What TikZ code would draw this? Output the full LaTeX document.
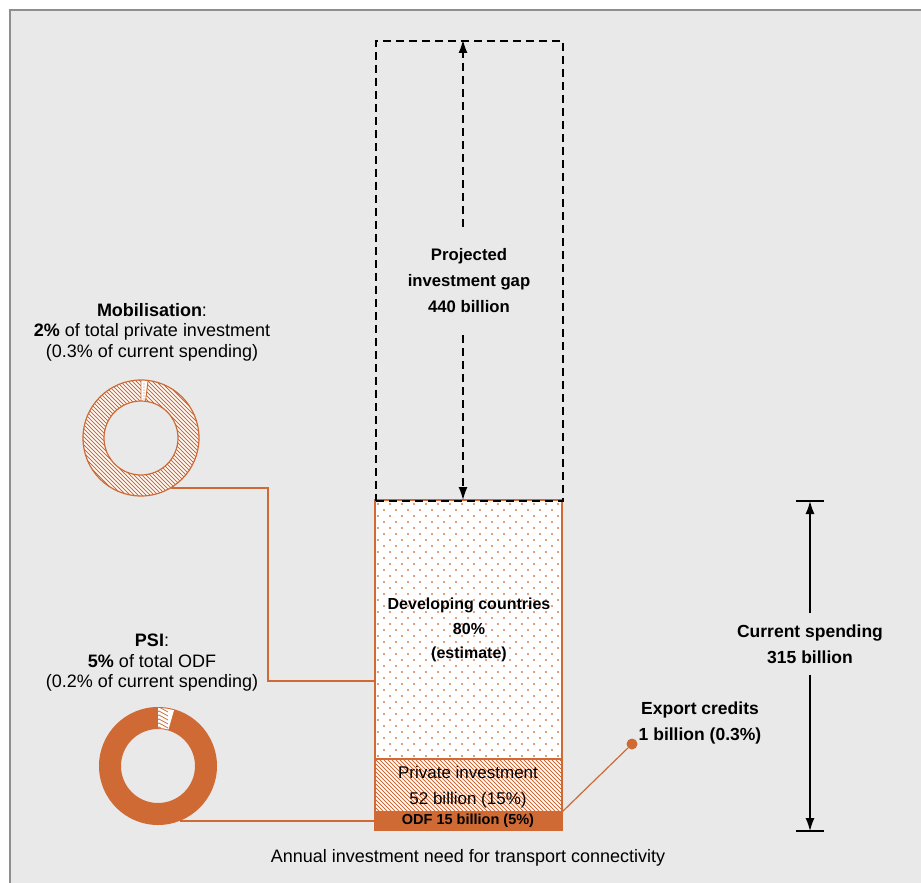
\documentclass[tikz,border=0pt]{standalone}
\usepackage{fontspec}
\setmainfont{Liberation Sans}
\usetikzlibrary{positioning,arrows.meta}
\definecolor{oecdorange}{HTML}{CF6A35}
\definecolor{panelgrey}{HTML}{E9E9E9}
\definecolor{framegrey}{HTML}{8E8E8E}

\begin{document}
\begin{tikzpicture}[x=1pt, y=-1pt,
  note/.style={font=\fontsize{18}{20.5}\selectfont, align=center, inner sep=0pt},
  lbl/.style={font=\fontsize{17.5}{26}\selectfont\bfseries, align=center, inner sep=0pt},
  inlbl/.style={font=\fontsize{16}{24.5}\selectfont\bfseries, align=center, inner sep=0pt},
  bar/.style={draw=oecdorange, line width=1.2pt, minimum width=187pt, anchor=north west, inner sep=0pt, outer sep=0pt},
  gapline/.style={draw=black, line width=1.7pt, dash pattern=on 8pt off 5pt},
  hatchline/.style={draw=oecdorange, line width=0.75pt},
  dim/.style={line width=1.4pt, -{Latex[length=13pt, width=9pt]}},
  link/.style={draw=oecdorange, line width=1.4pt}
]
% panel
\useasboundingbox (0,0) rectangle (921,883);
\fill[white] (0,0) rectangle (921,883);
\fill[panelgrey] (10,10) rectangle (921,883);
\draw[framegrey, line width=2pt] (10,883) -- (10,10) -- (921,10);

% stacked bar
\node[bar, fill=white, minimum height=260pt] (dev) at (375,500) {};
\begin{scope}
  \clip (dev.south west) rectangle (dev.north east);
  \foreach \r in {0,...,43}
    \foreach \c in {0,...,16}
      \fill[oecdorange!85] ({378+12*\c+6*mod(\r,2)}, {504+6*\r}) circle[radius=1.1];
\end{scope}
\node[bar, fill=white, minimum height=53pt] (priv) at (375,759) {};
\begin{scope}
  \clip (priv.south west) rectangle (priv.north east);
  \foreach \k in {-60,-56,...,190}
    \draw[hatchline] (375+\k,759) -- ++(60,60);
\end{scope}
\draw[oecdorange, line width=1.2pt] (priv.south west) rectangle (priv.north east);
\node[bar, fill=oecdorange, minimum height=18pt] (odf) at (375,812) {};
\node[gapline, minimum width=187pt, minimum height=460pt, anchor=north west, inner sep=0pt] (gap) at (375,40) {};

\node[inlbl] (devlbl) at (469,630) {Developing countries\\80\%\\(estimate)};
\node[font=\fontsize{17}{26}\selectfont, align=center, inner sep=0pt] (privlbl) at (468,787) {Private investment\\52 billion (15\%)};
\node[font=\fontsize{14.5}{16}\selectfont\bfseries, inner sep=0pt] (odflbl) at (468,821) {ODF 15 billion (5\%)};

% investment gap
\coordinate (gaptop) at (463,40);
\coordinate (gapbot) at (463,500);
\node[font=\fontsize{16.7}{26}\selectfont\bfseries, align=center, inner xsep=0pt, inner ysep=22pt] (gaptxt) at (469,281) {Projected\\investment gap\\440 billion};
\draw[gapline, dim] (gaptxt.north -| gaptop) -- (gaptop);
\draw[gapline, dim] (gaptxt.south -| gapbot) -- (gapbot);

% current spending
\coordinate (cstop) at (810,501);
\coordinate (csbot) at (810,831);
\node[lbl, inner ysep=11pt] (cs) at (810,644) {Current spending\\315 billion};
\draw[dim] (cs.north) -- (cstop);
\draw[dim] (cs.south) -- (csbot);
\draw[line width=1.4pt] ([xshift=-14pt]cstop) -- ([xshift=14pt]cstop);
\draw[line width=1.4pt] ([xshift=-14pt]csbot) -- ([xshift=14pt]csbot);

% export credits
\node[circle, fill=oecdorange, minimum size=11pt, inner sep=0pt] (expdot) at (632,744) {};
\draw[oecdorange, line width=1.2pt] (odf.north east) -- (expdot);
\node[lbl] (explbl) at (700,723) {Export credits\\1 billion (0.3\%)};

% mobilisation ring
\node[note] (moblbl) at (152,332) {\textbf{Mobilisation}:\\\textbf{2\%} of total private investment\\(0.3\% of current spending)};
\node[circle, minimum size=116pt, inner sep=0pt] (mob) at (141,438) {};
\fill[white] (mob.center) circle[radius=58];
\begin{scope}
  \clip (mob.center) circle[radius=58];
  \foreach \k in {-180,-176,...,120}
    \draw[hatchline] (141+\k,378) -- ++(122,122);
\end{scope}
\path[fill=white] ([shift={(-90:58)}]mob.center) arc[start angle=-90, end angle=-83, radius=58]
  -- ([shift={(-83:37)}]mob.center) arc[start angle=-83, end angle=-90, radius=37] -- cycle;
\foreach \r in {0,...,6}
  \fill[oecdorange] (144, {384+3*\r}) circle[radius=0.6];
\fill[panelgrey] (mob.center) circle[radius=37];
\draw[oecdorange, line width=1.2pt] (mob.center) circle[radius=58] circle[radius=37];
\draw[oecdorange, line width=0.9pt] ([shift={(-90:37)}]mob.center) -- ([shift={(-90:58)}]mob.center)
  ([shift={(-83:37)}]mob.center) -- ([shift={(-83:58)}]mob.center);

% PSI ring
\node[note] (psilbl) at (152,663) {\textbf{PSI}:\\\textbf{5\%} of total ODF\\(0.2\% of current spending)};
\node[circle, minimum size=118pt, inner sep=0pt] (psi) at (158,766) {};
\fill[oecdorange, even odd rule] (psi.center) circle[radius=59] circle[radius=37];
\path[fill=white] ([shift={(-90:58)}]psi.center) arc[start angle=-90, end angle=-74, radius=58]
  -- ([shift={(-74:38)}]psi.center) arc[start angle=-74, end angle=-90, radius=38] -- cycle;
\begin{scope}
  \clip ([shift={(-90:58)}]psi.center) arc[start angle=-90, end angle=-74, radius=58]
    -- ([shift={(-74:38)}]psi.center) arc[start angle=-74, end angle=-90, radius=38] -- cycle;
  \foreach \k in {0,4,...,24}
    \draw[hatchline] (150,{708+\k}) -- ++(9,-5) -- ++(9,5);
\end{scope}

% links
\coordinate (mobbend) at (268,681);
\draw[link] (mob.-59) -| (mobbend) -- (mobbend -| dev.west);
\draw[link] (psi.-68) -- (psi.-68 -| odf.west);

\node[note] (caption) at (468,858) {Annual investment need for transport connectivity};
\end{tikzpicture}
\end{document}
